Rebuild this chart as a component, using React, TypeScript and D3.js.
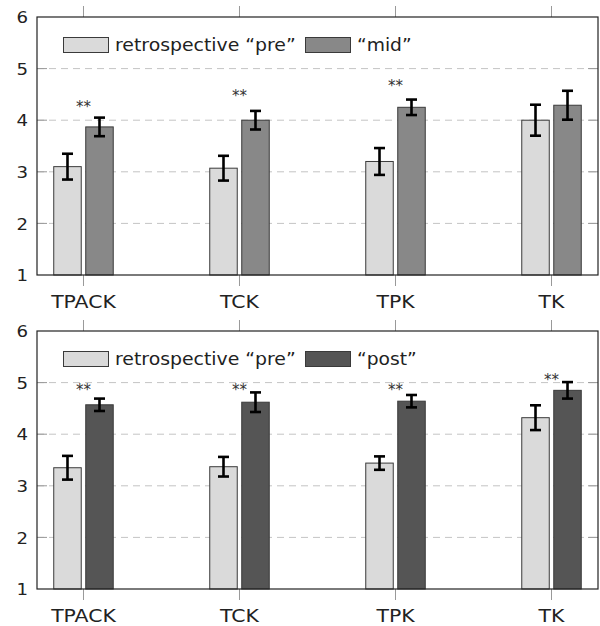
import React from "react";
import * as d3 from "d3";

const categories = ["TPACK", "TCK", "TPK", "TK"];
const yTicks = [1, 2, 3, 4, 5, 6];
const gridTicks = [2, 3, 4, 5];

// top panel: retrospective "pre" vs "mid"
const preTop = [3.1, 3.07, 3.2, 4.0];
const preTopErr = [0.25, 0.24, 0.26, 0.3];
const midVals = [3.87, 4.0, 4.25, 4.29];
const midErr = [0.18, 0.18, 0.15, 0.28];
const starsTop: (number | null)[] = [4.34, 4.54, 4.74, null];

// bottom panel: retrospective "pre" vs "post"
const preBot = [3.35, 3.37, 3.44, 4.32];
const preBotErr = [0.23, 0.19, 0.13, 0.24];
const postVals = [4.57, 4.62, 4.64, 4.85];
const postErr = [0.12, 0.19, 0.12, 0.16];
const starsBot: (number | null)[] = [4.93, 4.93, 4.93, 5.13];

const legendPre = "retrospective \u201cpre\u201d";
const legendMid = "\u201cmid\u201d";
const legendPost = "\u201cpost\u201d";

const FONT = "DejaVu Sans";
const LEFT = 37;
const RIGHT = 598;

function Panel(props: {
  top: number;
  bottom: number;
  pre: number[];
  preErr: number[];
  other: number[];
  otherErr: number[];
  stars: (number | null)[];
  otherColor: string;
  otherLabel: string;
  otherLabelScale: number;
}) {
  const { top, bottom, pre, preErr, other, otherErr, stars, otherColor, otherLabel, otherLabelScale } = props;
  const y = d3.scaleLinear().domain([1, 6]).range([bottom, top]);
  const x = d3.scalePoint<string>().domain(categories).range([LEFT, RIGHT]).padding(0.298);
  const barW = 27.5;
  const off = 16;
  const capW = 11;

  const bar = (cx: number, v: number, e: number, fill: string, key: string) => (
    <g key={key}>
      <rect x={cx - barW / 2} y={y(v)} width={barW} height={y(1) - y(v)} fill={fill} stroke="#3a3a3a" strokeWidth={1} />
      <line x1={cx} x2={cx} y1={y(v + e)} y2={y(v - e)} stroke="#000" strokeWidth={2.6} />
      <line x1={cx - capW / 2} x2={cx + capW / 2} y1={y(v + e)} y2={y(v + e)} stroke="#000" strokeWidth={2.6} />
      <line x1={cx - capW / 2} x2={cx + capW / 2} y1={y(v - e)} y2={y(v - e)} stroke="#000" strokeWidth={2.6} />
    </g>
  );

  return (
    <g>
      {gridTicks.map((t) => (
        <line key={"g" + t} x1={LEFT} x2={RIGHT} y1={y(t)} y2={y(t)} stroke="#c4c4c4" strokeWidth={1} strokeDasharray="7,5" />
      ))}
      {gridTicks.map((t) => (
        <g key={"t" + t}>
          <line x1={LEFT} x2={LEFT + 10} y1={y(t)} y2={y(t)} stroke="#999" strokeWidth={1} />
          <line x1={RIGHT - 10} x2={RIGHT} y1={y(t)} y2={y(t)} stroke="#999" strokeWidth={1} />
        </g>
      ))}
      {categories.map((c) => (
        <g key={"xt" + c}>
          <line x1={x(c)!} x2={x(c)!} y1={top - 11} y2={top} stroke="#999" strokeWidth={1} />
          <line x1={x(c)!} x2={x(c)!} y1={bottom} y2={bottom + 11} stroke="#999" strokeWidth={1} />
        </g>
      ))}
      {categories.map((c, i) => (
        <g key={"b" + c}>
          {bar(x(c)! - off, pre[i], preErr[i], "#dadada", "p")}
          {bar(x(c)! + off, other[i], otherErr[i], otherColor, "o")}
          {stars[i] !== null && (
            <text x={x(c)!} y={y(stars[i] as number) + 9} textAnchor="middle" fontFamily={FONT} fontSize={15} fill="#333">
              **
            </text>
          )}
        </g>
      ))}
      <rect x={LEFT} y={top} width={RIGHT - LEFT} height={bottom - top} fill="none" stroke="#222" strokeWidth={1.2} />
      {yTicks.map((t) => (
        <text
          key={"yl" + t}
          transform={`translate(28,${y(t)}) scale(1.1,1)`}
          dy="0.38em"
          textAnchor="end"
          fontFamily={FONT}
          fontSize={16.5}
          fill="#222"
        >
          {t}
        </text>
      ))}
      {categories.map((c) => (
        <text
          key={"xl" + c}
          transform={`translate(${x(c)},${bottom + 33}) scale(1.2,1)`}
          textAnchor="middle"
          fontFamily={FONT}
          fontSize={17}
          fill="#222"
        >
          {c}
        </text>
      ))}
      {/* legend */}
      <rect x={63.5} y={top + 20.5} width={45} height={15} fill="#dadada" stroke="#3a3a3a" strokeWidth={1} />
      <text transform={`translate(115,${top + 34}) scale(1.11,1)`} fontFamily={FONT} fontSize={17} fill="#222">
        {legendPre}
      </text>
      <rect x={305.5} y={top + 20.5} width={45} height={15} fill={otherColor} stroke="#3a3a3a" strokeWidth={1} />
      <text transform={`translate(357,${top + 34}) scale(${otherLabelScale},1)`} fontFamily={FONT} fontSize={17} fill="#222">
        {otherLabel}
      </text>
    </g>
  );
}

export default function App() {
  return (
    <svg width={600} height={626} style={{ position: "absolute", left: 0, top: 0, background: "#fff" }}>
      <rect x={0} y={0} width={600} height={626} fill="#fff" />
      <Panel
        top={17}
        bottom={275}
        pre={preTop}
        preErr={preTopErr}
        other={midVals}
        otherErr={midErr}
        stars={starsTop}
        otherColor="#888888"
        otherLabel={legendMid}
        otherLabelScale={1.1}
      />
      <Panel
        top={331}
        bottom={589}
        pre={preBot}
        preErr={preBotErr}
        other={postVals}
        otherErr={postErr}
        stars={starsBot}
        otherColor="#555555"
        otherLabel={legendPost}
        otherLabelScale={1.1}
      />
    </svg>
  );
}
